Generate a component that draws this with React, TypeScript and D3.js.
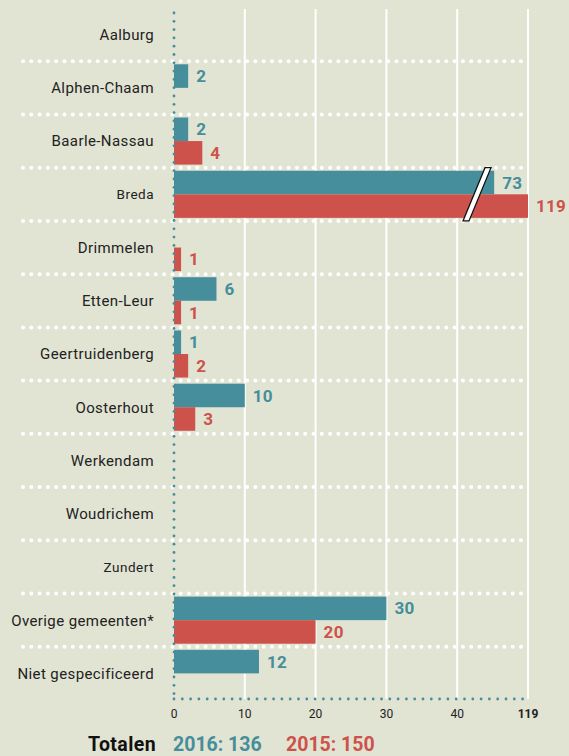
import React from "react";
import * as d3 from "d3";

const categories = [
  "Aalburg", "Alphen-Chaam", "Baarle-Nassau", "Breda", "Drimmelen", "Etten-Leur",
  "Geertruidenberg", "Oosterhout", "Werkendam", "Woudrichem", "Zundert",
  "Overige gemeenten*", "Niet gespecificeerd",
];
const smallLabels = ["Breda", "Zundert"];
const values2016: (number | null)[] = [null, 2, 2, 73, null, 6, 1, 10, null, null, null, 30, 12];
const values2015: (number | null)[] = [null, null, 4, 119, 1, 1, 2, 3, null, null, null, 20, null];
const tickValues = [0, 10, 20, 30, 40, 119];
const breakValue = 42;
const maxValue = 119;
const totals = [
  { label: "2016: 136", series: "2016" },
  { label: "2015: 150", series: "2015" },
];

const W = 569, H = 756;
const BG = "#e1e4d2";
const TEAL = "#468e9b";
const RED = "#cd524b";
const FONT = "Roboto, 'DejaVu Sans', sans-serif";

export default function App() {
  const x0 = 174;
  const unit = 7.08;
  // broken scale: linear up to breakValue, compressed afterwards to the last gridline (50 units)
  const x = d3.scaleLinear().domain([0, breakValue, maxValue]).range([x0, x0 + breakValue * unit, x0 + 50 * unit]);
  const axisPos = d3.scaleLinear().domain([0, 10, 20, 30, 40, 119]).range([0, 10, 20, 30, 40, 50].map((d) => x0 + d * unit));
  const y = d3.scaleBand<string>().domain(categories).range([8, 700]).paddingInner(0).paddingOuter(0);
  const inner = d3.scaleBand<string>().domain(["2016", "2015"]).range([0, y.bandwidth()]).paddingOuter(0.13).paddingInner(0);
  const bh = inner.bandwidth();

  const dotsH = (yy: number, xs: number, xe: number) => {
    const arr = d3.range(xs, xe, 8.3);
    return arr.map((xx, i) => <circle key={i} cx={xx} cy={yy} r={2} fill="#ffffff" />);
  };

  const axisY = 699;
  const vDots = d3.range(13, axisY, 8.3);
  const hAxisDots = d3.range(x0, 530, 8.3);

  const bredaY = y("Breda")!;

  return (
    <svg width={W} height={H} style={{ position: "absolute", left: 0, top: 0, display: "block" }} fontFamily={FONT}>
      <rect width={W} height={H} fill={BG} />
      {/* white gridlines */}
      {[10, 20, 30, 40, 119].map((t) => (
        <line key={t} x1={axisPos(t)} x2={axisPos(t)} y1={9} y2={axisY} stroke="#ffffff" strokeWidth={2} />
      ))}
      {/* row separators */}
      {categories.slice(1).map((c) => (
        <g key={c}>{dotsH(y(c)!, 23, 526)}</g>
      ))}
      {/* bars */}
      {categories.map((c, i) => {
        const yy = y(c)!;
        const items = [
          { s: "2016", v: values2016[i], col: TEAL },
          { s: "2015", v: values2015[i], col: RED },
        ];
        return (
          <g key={c}>
            {items.map((it) =>
              it.v == null ? null : (
                <g key={it.s}>
                  <rect x={x0} y={yy + inner(it.s)!} width={x(it.v) - x0} height={bh} fill={it.col} />
                  <text x={x(it.v) + 8} y={yy + inner(it.s)! + bh / 2} dy="0.36em" fill={it.col} fontWeight="bold" fontSize={17} letterSpacing={0.3}>
                    {it.v}
                  </text>
                </g>
              )
            )}
            <text x={154} y={yy + y.bandwidth() / 2} dy="0.36em" textAnchor="end" fill="#222222" fontSize={smallLabels.includes(c) ? 13.5 : 15} letterSpacing={smallLabels.includes(c) ? 0.5 : 0.4}>
              {c}
            </text>
          </g>
        );
      })}
      {/* axis break on Breda */}
      <polygon
        points={`${463},${bredaY + y.bandwidth()} ${485},${bredaY} ${491},${bredaY} ${469},${bredaY + y.bandwidth()}`}
        fill="#ffffff"
        stroke="#111111"
        strokeWidth={1.3}
      />
      {/* vertical axis dots */}
      {vDots.map((yy, i) => (
        <circle key={i} cx={x0} cy={yy} r={1.4} fill={TEAL} />
      ))}
      {hAxisDots.map((xx, i) => (
        <circle key={i} cx={xx} cy={axisY} r={1.4} fill={TEAL} />
      ))}
      {/* tick labels */}
      {tickValues.map((t) => (
        <text key={t} x={axisPos(t)} y={714} dy="0.36em" textAnchor="middle" fontSize={12} fill="#222222" fontWeight={t === 119 ? "bold" : "normal"}>
          {t}
        </text>
      ))}
      {/* totals */}
      <text x={156} y={751} textAnchor="end" fontSize={19.5} fontWeight="bold" fill="#111111" letterSpacing={0.4}>Totalen</text>
      <text x={173} y={751} fontSize={19.5} fontWeight="bold" fill={TEAL}>{totals[0].label}</text>
      <text x={286} y={751} fontSize={19.5} fontWeight="bold" fill={RED}>{totals[1].label}</text>
    </svg>
  );
}
